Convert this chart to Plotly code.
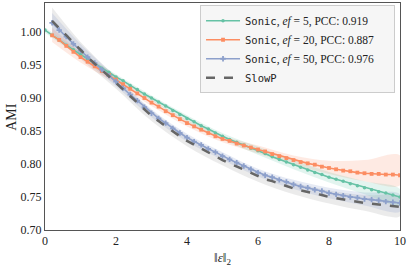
import plotly.graph_objects as go

# ---- data ----
x_green = [round(0.2 * i, 1) for i in range(51)]
x_other = [round(0.2 * i, 1) for i in range(1, 51)]

green_y = [1.003, 0.995, 0.988, 0.980, 0.973, 0.966, 0.959, 0.952, 0.945, 0.939,
           0.932, 0.926, 0.919, 0.913, 0.906, 0.900, 0.894, 0.888, 0.881, 0.875,
           0.869, 0.864, 0.858, 0.853, 0.847, 0.842, 0.837, 0.833, 0.829, 0.824,
           0.820, 0.816, 0.811, 0.807, 0.803, 0.799, 0.795, 0.791, 0.787, 0.784,
           0.780, 0.777, 0.774, 0.770, 0.767, 0.764, 0.761, 0.758, 0.756, 0.753,
           0.750]
orange_y = [0.995, 0.988, 0.979, 0.970, 0.962, 0.955, 0.948, 0.941, 0.935,
            0.928, 0.921, 0.914, 0.907, 0.900, 0.893, 0.887, 0.880, 0.874, 0.868,
            0.862, 0.857, 0.852, 0.847, 0.842, 0.838, 0.835, 0.831, 0.828, 0.825,
            0.822, 0.819, 0.815, 0.812, 0.809, 0.806, 0.803, 0.801, 0.799, 0.796,
            0.794, 0.792, 0.790, 0.789, 0.787, 0.786, 0.785, 0.785, 0.784, 0.784,
            0.783]
blue_y = [1.014, 1.003, 0.993, 0.982, 0.972, 0.962, 0.953, 0.943, 0.934,
          0.925, 0.915, 0.905, 0.896, 0.886, 0.877, 0.869, 0.862, 0.854, 0.847,
          0.840, 0.834, 0.829, 0.823, 0.818, 0.812, 0.807, 0.802, 0.797, 0.792,
          0.787, 0.783, 0.780, 0.776, 0.773, 0.769, 0.766, 0.764, 0.761, 0.759,
          0.756, 0.754, 0.752, 0.750, 0.749, 0.747, 0.746, 0.745, 0.743, 0.742,
          0.741]
gray_y = [1.017, 1.006, 0.994, 0.983, 0.972, 0.962, 0.952, 0.943, 0.933,
          0.923, 0.913, 0.903, 0.893, 0.883, 0.873, 0.865, 0.857, 0.850, 0.842,
          0.835, 0.829, 0.823, 0.817, 0.812, 0.806, 0.801, 0.796, 0.791, 0.786,
          0.781, 0.777, 0.774, 0.770, 0.767, 0.763, 0.760, 0.758, 0.755, 0.753,
          0.750, 0.748, 0.746, 0.745, 0.743, 0.741, 0.740, 0.739, 0.737, 0.736,
          0.735]

band_x_green = [0, 1, 2, 3, 4, 5, 6, 7, 8, 9, 10]
band_x_other = [0.2, 1, 2, 3, 4, 5, 6, 7, 8, 9, 10]
green_hi = [1.007, 0.970, 0.936, 0.904, 0.874, 0.847, 0.826, 0.806, 0.788, 0.774, 0.762]
green_lo = [0.999, 0.962, 0.928, 0.896, 0.864, 0.837, 0.814, 0.792, 0.772, 0.754, 0.738]
orange_hi = [1.006, 0.970, 0.934, 0.898, 0.867, 0.843, 0.828, 0.813, 0.805, 0.806, 0.813]
orange_lo = [0.985, 0.954, 0.922, 0.888, 0.857, 0.833, 0.816, 0.799, 0.785, 0.774, 0.768]
blue_hi = [1.029, 0.982, 0.932, 0.883, 0.846, 0.818, 0.793, 0.776, 0.764, 0.757, 0.754]
blue_lo = [0.999, 0.962, 0.918, 0.871, 0.834, 0.806, 0.781, 0.762, 0.748, 0.737, 0.728]
gray_hi = [1.037, 0.985, 0.932, 0.881, 0.843, 0.814, 0.789, 0.772, 0.760, 0.753, 0.749]
gray_lo = [0.997, 0.959, 0.914, 0.865, 0.827, 0.798, 0.773, 0.754, 0.740, 0.729, 0.721]

x_ticks = [0, 2, 4, 6, 8, 10]
y_ticks = [0.70, 0.75, 0.80, 0.85, 0.90, 0.95, 1.00]

SERIF = "Liberation Serif"
MONO = "<span style='font-family:DejaVu Sans Mono;font-size:10.5px'>{}</span>"
PAD = "&nbsp;" * 5
def rest(t):
    return f"<span style='font-family:{SERIF}'>{t}</span>"
names = [MONO.format("Sonic") + rest(", <i>ef</i> = 5, PCC: 0.919" + PAD),
         MONO.format("Sonic") + rest(", <i>ef</i> = 20, PCC: 0.887" + PAD),
         MONO.format("Sonic") + rest(", <i>ef</i> = 50, PCC: 0.976" + PAD),
         MONO.format("SlowP")]

C_G, C_O, C_B, C_K = "#66c2a5", "#fc8d62", "#8da0cb", "#666666"
F_G, F_O, F_B, F_K = ("rgba(102,194,165,0.18)", "rgba(252,141,98,0.18)",
                      "rgba(141,160,203,0.22)", "rgba(120,120,120,0.15)")

fig = go.Figure()

def band(bx, hi, lo, fill):
    fig.add_trace(go.Scatter(x=bx + bx[::-1], y=hi + lo[::-1], fill="toself",
                             fillcolor=fill, line=dict(width=0, shape="spline"),
                             mode="lines", hoverinfo="skip", showlegend=False))

band(band_x_other, gray_hi, gray_lo, F_K)
band(band_x_other, blue_hi, blue_lo, F_B)
band(band_x_other, orange_hi, orange_lo, F_O)
band(band_x_green, green_hi, green_lo, F_G)

fig.add_trace(go.Scatter(x=x_green, y=green_y, name=names[0], mode="lines+markers",
                         line=dict(color=C_G, width=1.6),
                         marker=dict(symbol="circle", size=3.5, color=C_G)))
fig.add_trace(go.Scatter(x=x_other, y=orange_y, name=names[1], mode="lines+markers",
                         line=dict(color=C_O, width=1.6),
                         marker=dict(symbol="square", size=3.8, color=C_O)))
fig.add_trace(go.Scatter(x=x_other, y=blue_y, name=names[2], mode="lines+markers",
                         line=dict(color=C_B, width=1.6),
                         marker=dict(symbol="cross", size=4.5, color=C_B)))
fig.add_trace(go.Scatter(x=x_other, y=gray_y, name=names[3], mode="lines",
                         line=dict(color=C_K, width=2.5, dash="dash")))

fig.update_layout(
    width=407, height=267,
    margin=dict(l=45, r=7, t=3, b=37, autoexpand=False),
    paper_bgcolor="white", plot_bgcolor="white",
    font=dict(family=SERIF, size=12, color="#222222"),
    showlegend=True,
    legend=dict(x=0.986, y=0.99, xanchor="right", yanchor="top",
                bgcolor="#f6f6f6", bordercolor="#cccccc", borderwidth=1,
                font=dict(family=SERIF, size=11.5, color="#222222"),
                itemwidth=34, tracegroupgap=0),
    annotations=[
        dict(text="‖<i>ε</i>‖<sub>2</sub>", xref="paper", yref="paper",
             x=0.5, y=-0.08, xanchor="center", yanchor="top", showarrow=False,
             font=dict(family=SERIF, size=13, color="#222222")),
        dict(text="AMI", xref="paper", yref="paper", x=-0.095, y=0.5,
             xanchor="center", yanchor="middle", textangle=-90, showarrow=False,
             font=dict(family=SERIF, size=14, color="#222222")),
    ],
)
fig.update_xaxes(range=[0, 10], tickvals=x_ticks, showgrid=False, automargin=False,
                 zeroline=False, showline=True, linecolor="#555555", linewidth=1,
                 mirror=True, ticks="")
fig.update_yaxes(range=[0.70, 1.044], tickvals=y_ticks, automargin=False,
                 tickformat=".2f", showgrid=False, zeroline=False, showline=True,
                 linecolor="#555555", linewidth=1, mirror=True, ticks="")

fig.write_html("out.html", config={"displayModeBar": False},
               post_script="document.body.style.margin='0';document.body.style.overflow='hidden';")
